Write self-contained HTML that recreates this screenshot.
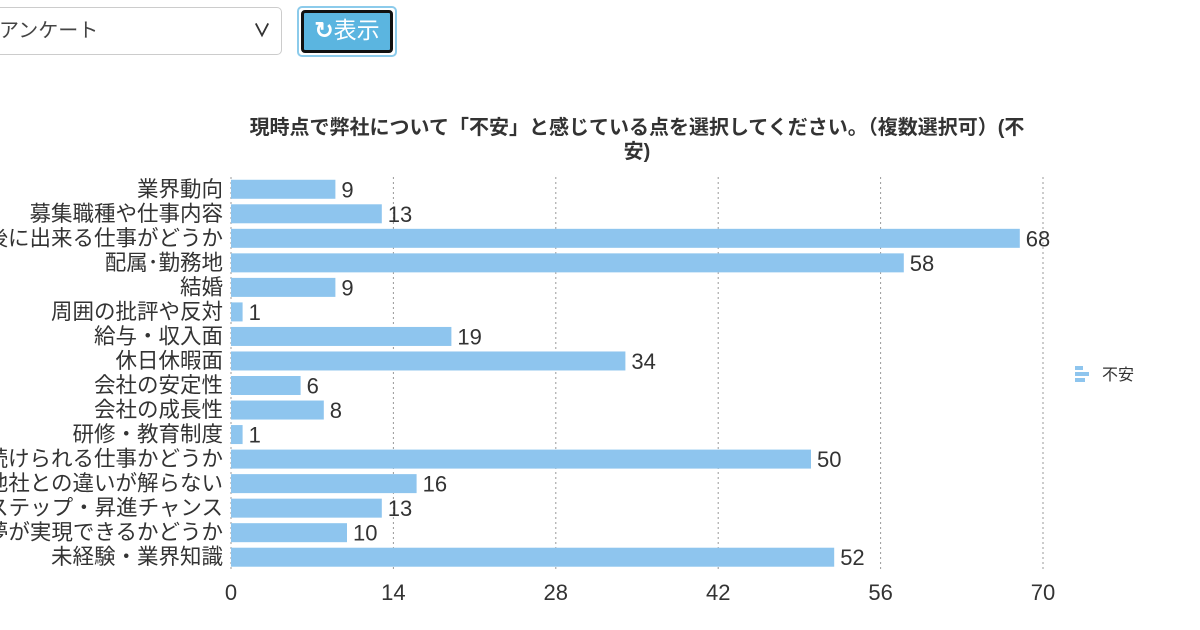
<!DOCTYPE html>
<html><head><meta charset="utf-8">
<style>
body{margin:0;width:1200px;height:630px;background:#fff;overflow:hidden;font-family:"Liberation Sans","Noto Sans CJK JP",sans-serif;position:relative}
.sel{position:absolute;left:-10px;top:7px;width:292px;height:48px;border:1px solid #ccc;border-radius:5px;box-sizing:border-box;font-size:20px;color:#444;line-height:46px;padding-left:8px}
.sel .car{position:absolute;right:10px;top:0;font-size:18px;color:#333;font-weight:bold}
.btn{position:absolute;left:297px;top:6px;width:100px;height:51px;border:2px solid #8ccbeb;border-radius:5px;box-sizing:border-box}
.btn div{position:absolute;left:2px;top:2px;right:2px;bottom:2px;background:#5bb5e0;border:3px solid #111;border-radius:4px;color:#fff;font-size:23px;line-height:35px;text-align:center}
</style></head><body>
<div class="sel">アンケート<span class="car">&#x2228;</span></div>
<div class="btn"><div><b>&#x21bb;</b>表示</div></div>
<svg id="chart" width="1200" height="630" style="position:absolute;left:0;top:0"></svg>
<script>
const categories=["業界動向","募集職種や仕事内容","入社後に出来る仕事がどうか","配属･勤務地","結婚","周囲の批評や反対","給与・収入面","休日休暇面","会社の安定性","会社の成長性","研修・教育制度","長く続けられる仕事かどうか","他社との違いが解らない","キャリアステップ・昇進チャンス","自分の夢が実現できるかどうか","未経験・業界知識"];
const values=[9,13,68,58,9,1,19,34,6,8,1,50,16,13,10,52];
const ticks=[0,14,28,42,56,70];
const svg=document.getElementById('chart');const NS='http://www.w3.org/2000/svg';
const x0=231,x1=1043,xmax=70,top0=177,step=24.53,bh=19;
const X=v=>x0+(x1-x0)*v/xmax;
const Y=i=>top0+step*i+step/2;
function mk(t,a,txt){const e=document.createElementNS(NS,t);for(const k in a)e.setAttribute(k,a[k]);if(txt!==undefined)e.textContent=txt;svg.appendChild(e);return e;}
ticks.forEach((t,i)=>{
 if(i>0){const g=mk('line',{x1:X(t),x2:X(t),y1:top0,y2:570,stroke:'#999','stroke-dasharray':'2,3'});
 
 }
 const l=mk('text',{x:X(t),y:600,'font-size':22,fill:'#333','text-anchor':'middle'},t);
 
 
});
const ax=mk('line',{x1:x0,x2:x0,y1:top0,y2:570,stroke:'#999','stroke-dasharray':'2,3'});


categories.forEach((c,i)=>{
 const cy=Y(i);
 const l=mk('text',{x:223,y:cy+7,'font-size':21.5,fill:'#333','text-anchor':'end'},c);
 
 
 const b=mk('rect',{x:x0,y:cy-bh/2,width:X(values[i])-x0,height:bh,fill:'#8ec5ee'});
 
 
 const v=mk('text',{x:X(values[i])+6,y:cy+8,'font-size':22,fill:'#333'},values[i]);
 
 
});
const t1=mk('text',{x:637,y:134,'font-size':20,'font-weight':'bold',fill:'#333','text-anchor':'middle'},'現時点で弊社について「不安」と感じている点を選択してください。（複数選択可）(不');


const t2=mk('text',{x:637,y:158,'font-size':20,'font-weight':'bold',fill:'#333','text-anchor':'middle'},'安)');


[0,1,2].forEach(k=>{const r=mk('rect',{x:1075,y:366+k*6,width:[8,14,10][k],height:4,fill:'#8ec5ee'});

});
const lg=mk('text',{x:1102,y:380,'font-size':16,fill:'#333'},'不安');


</script>
</body></html>
